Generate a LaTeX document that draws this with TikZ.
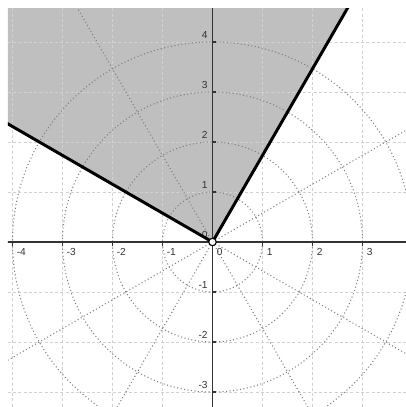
\documentclass[tikz,border=0pt]{standalone}
\usepackage{fontspec}
\setmainfont{Liberation Sans}
\begin{document}
\begin{tikzpicture}[
  gridline/.style={black!18, line width=0.55pt, dash pattern=on 1.7pt off 1.3pt},
  polarline/.style={black!50, line width=0.6pt, dash pattern=on 0.6pt off 1.4pt},
  axisline/.style={black!80, line width=0.6pt},
  rayline/.style={black, line width=1.7pt},
  ticklabel/.style={inner sep=0pt, text=black!80, font=\fontsize{5.8}{7}\selectfont}
]
\useasboundingbox (-4.25,-3.3) rectangle (3.87,4.84);
\begin{scope}
\clip (-4.09,-3.3) rectangle (3.87,4.66);
% shaded wedge
\fill[black!25] (0,0) -- (60:9) -- (105:12) -- (150:9) -- cycle;
% cartesian grid
\foreach \x in {-4,...,3} \draw[gridline] (\x,-3.4) -- (\x,4.7);
\foreach \y in {-3,...,4} \draw[gridline] (-4.2,\y) -- (3.9,\y);
% polar grid
\foreach \r in {1,2,3,4} \draw[polarline] (0,0) circle (\r);
\foreach \a in {30,60,120,150,210,240,300,330} \draw[polarline] (0,0) -- (\a:8);
% axes
\draw[axisline] (-4.2,0) -- (3.9,0);
\draw[axisline] (0,-3.4) -- (0,4.7);
\foreach \x in {-4,...,3} \draw[axisline] (\x,0) -- (\x,-0.07);
\foreach \y in {-3,...,4} \draw[axisline] (0,\y) -- (0.07,\y);
\end{scope}
% labels
\foreach \x in {-4,...,3} \node[ticklabel, anchor=north west] (xl\x) at (\x+0.08,-0.13) {\x};
\foreach \y in {-3,...,4} \node[ticklabel, anchor=south east] (yl\y) at (-0.09,\y+0.06) {\y};
% boundary rays
\coordinate (O) at (0,0);
\begin{scope}
\clip (-4.09,-3.3) rectangle (3.87,4.66);
\coordinate (R1) at (60:7);
\coordinate (R2) at (150:7);
\draw[rayline] (O) -- (R1);
\draw[rayline] (O) -- (R2);
\end{scope}
\node[circle, draw=black, fill=white, line width=0.6pt, inner sep=0pt, minimum size=4.2pt] (pt) at (O) {};
\end{tikzpicture}
\end{document}
